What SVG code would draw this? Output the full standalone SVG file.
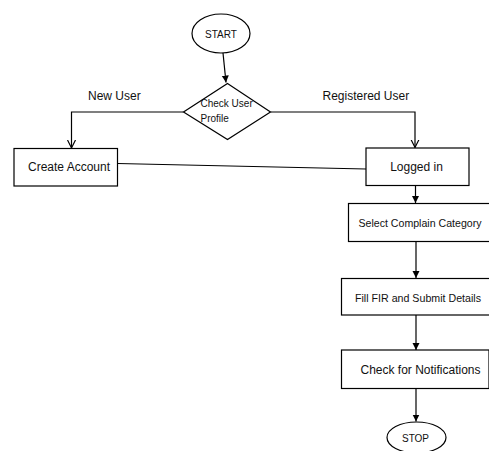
<svg xmlns="http://www.w3.org/2000/svg" width="489" height="451" viewBox="0 0 489 451">
<style>
.shape{fill:#fff;stroke:#000;stroke-width:1.2}
.conn{fill:none;stroke:#000;stroke-width:1.2}
text{font-family:"Liberation Sans",Arial,sans-serif;font-size:12px;fill:#111}
.small{font-size:10px}
.term{font-size:10px}
.narrow{font-size:11px}
</style>
<defs>
<marker id="ah" markerWidth="8" markerHeight="8" refX="7" refY="4" orient="auto" markerUnits="userSpaceOnUse">
<path d="M0,0.5 L7,4 L0,7.5 Z" fill="#000"/>
</marker>
<marker id="av" markerWidth="10" markerHeight="10" refX="8" refY="5" orient="auto" markerUnits="userSpaceOnUse">
<path d="M0,1 L8,5 L0,9" fill="none" stroke="#000" stroke-width="1.2"/>
</marker>
</defs>
<rect width="489" height="451" fill="#fff"/>
<g id="connectors">
<line class="conn" x1="223" y1="53" x2="226" y2="82.5" marker-end="url(#ah)"/>
<polyline class="conn" points="183.5,112 71.5,112 71.5,148" marker-end="url(#av)"/>
<polyline class="conn" points="270.5,112 415,112 415,147.5" marker-end="url(#av)"/>
<line class="conn" x1="117.5" y1="163.5" x2="366" y2="169"/>
<line class="conn" x1="415.5" y1="185.5" x2="415.5" y2="203" marker-end="url(#ah)"/>
<line class="conn" x1="416" y1="241.5" x2="416" y2="278" marker-end="url(#ah)"/>
<line class="conn" x1="416" y1="315" x2="416" y2="350" marker-end="url(#ah)"/>
<line class="conn" x1="416" y1="388.5" x2="416" y2="421.5" marker-end="url(#ah)"/>
<text x="88" y="100">New User</text>
<text x="322.5" y="100">Registered User</text>
</g>
<g id="start">
<ellipse class="shape" cx="221" cy="33.5" rx="29" ry="19.5"/>
<text class="term" x="221" y="37.5" text-anchor="middle">START</text>
</g>
<g id="check-user-profile">
<polygon class="shape" points="227.5,83.5 270.5,112 227.5,139.5 183.5,112"/>
<text class="small" x="200.5" y="106.5">Check User</text>
<text class="small" x="200.5" y="121.5">Profile</text>
</g>
<g id="create-account">
<rect class="shape" x="14" y="148.5" width="103.5" height="37.5"/>
<text x="28" y="171">Create Account</text>
</g>
<g id="logged-in">
<rect class="shape" x="366" y="148" width="103" height="37.5"/>
<text x="416.5" y="170.5" text-anchor="middle">Logged in</text>
</g>
<g id="select-category">
<rect class="shape" x="348.5" y="203.5" width="150" height="38"/>
<text class="narrow" x="358.5" y="226.5" textLength="123" lengthAdjust="spacingAndGlyphs">Select Complain Category</text>
</g>
<g id="fill-fir">
<rect class="shape" x="341.5" y="278.5" width="155" height="36.5"/>
<text class="narrow" x="355" y="301.5" textLength="126" lengthAdjust="spacingAndGlyphs">Fill FIR and Submit Details</text>
</g>
<g id="check-notifications">
<rect class="shape" x="341.5" y="350" width="147.5" height="38.5"/>
<text x="360.5" y="373.5">Check for Notifications</text>
</g>
<g id="stop">
<ellipse class="shape" cx="416.5" cy="437.5" rx="29.5" ry="15.5"/>
<text class="term" x="415.5" y="442" text-anchor="middle">STOP</text>
</g>
</svg>
